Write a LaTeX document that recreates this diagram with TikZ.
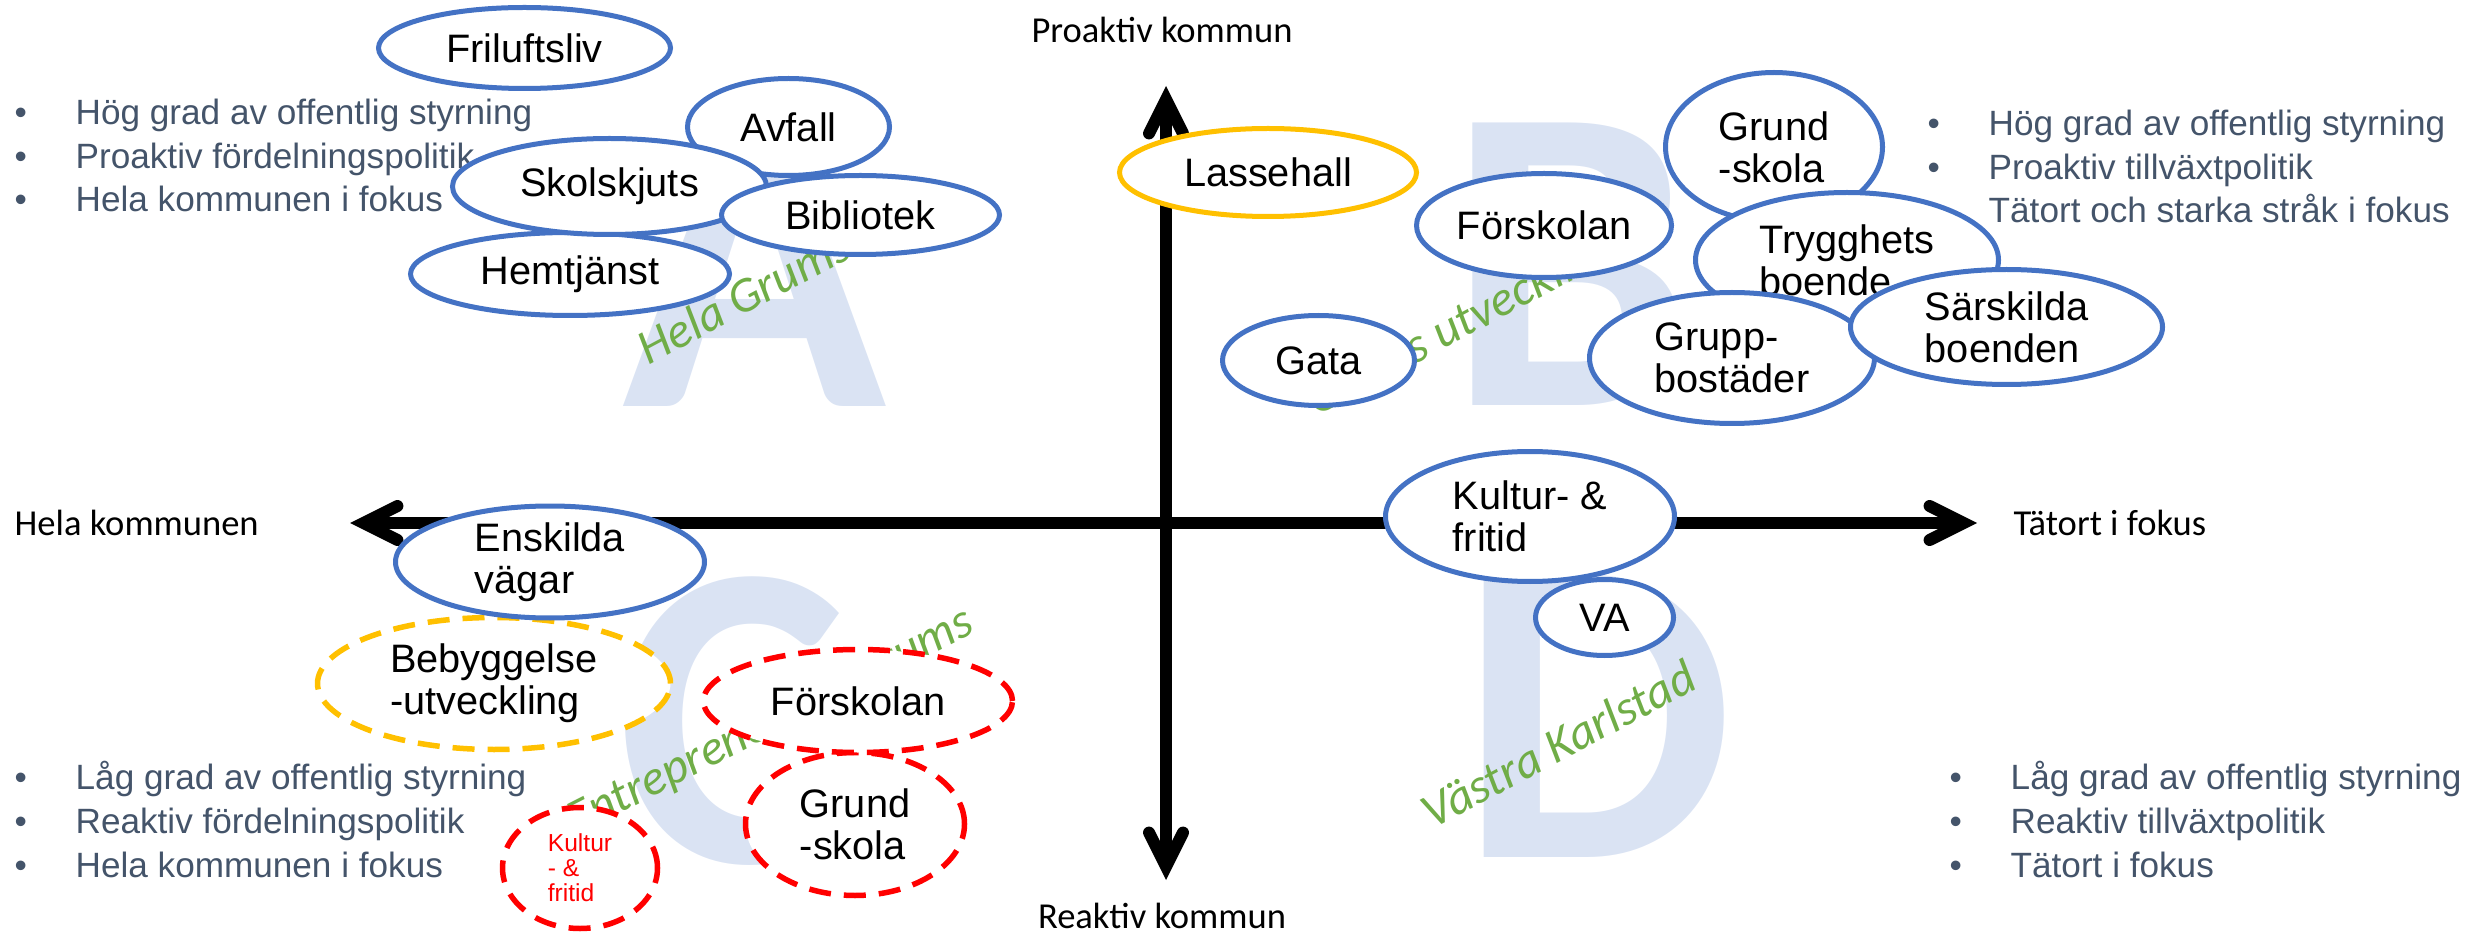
\documentclass[tikz,border=0pt]{standalone}
\usepackage{fontspec}
\setmainfont{Liberation Sans}
\newfontfamily\calibri{Carlito}
\usetikzlibrary{shapes.geometric, arrows.meta}
\definecolor{ovalblue}{HTML}{4472C4}
\definecolor{ovalorange}{HTML}{FFC000}
\definecolor{ovalred}{HTML}{FF0000}
\definecolor{areagreen}{HTML}{70AD47}
\definecolor{letterblue}{HTML}{DAE3F3}
\definecolor{notegray}{HTML}{44546A}

\begin{document}
\begin{tikzpicture}[x=0.1mm, y=-0.1mm,
    >={Straight Barb[length=3.4mm, width=3.4mm, line cap=round]},
    oval/.style={ellipse, draw=ovalblue, line width=0.5mm, fill=white, inner sep=0pt,
                 font=\fontsize{11.3}{12}\selectfont, align=left},
    brokenline/.style={dash pattern=on 2.2mm off 1.3mm, line width=0.55mm},
    bigletter/.style={text=letterblue, font=\calibri\bfseries\fontsize{124}{124}\selectfont,
                      anchor=base, inner sep=0pt},
    area/.style={text=areagreen, font=\calibri\itshape\fontsize{14}{14}\selectfont,
                 rotate=28, anchor=base west, inner sep=0pt},
    notes/.style={text=notegray, font=\fontsize{10}{12.5}\selectfont, align=left,
                  anchor=base west, inner sep=0pt},
    axislabel/.style={font=\calibri\fontsize{10.4}{12}\selectfont, inner sep=0pt},
    axis/.style={line width=1.2mm, <->}]
  \useasboundingbox (0,0) rectangle (2469,935);

  % quadrant letters and area names
  \node[bigletter] (letterA) at (755,407) {A};
  \node[bigletter] (letterB) at (1570,406) {B};
  \node[bigletter] (letterC) at (732,862) {C};
  \node[bigletter] (letterD) at (1597,857) {D};
  \node[area] (areaA) at (648,366) {Hela Grums};
  \node[area] (areaB) at (1316,417) {Grums utveckling};
  \node[area, rotate=-1] (areaC) at (576,836) {Entreprenörens Grums};
  \node[area] (areaD) at (1432,830) {Västra Karlstad};

  % quadrant descriptions (placed at the last line)
  \node[notes] (notesA) at (14,212)
    {\makebox[6.1mm][l]{•}Hög grad av offentlig styrning\\
     \makebox[6.1mm][l]{•}Proaktiv fördelningspolitik\\
     \makebox[6.1mm][l]{•}Hela kommunen i fokus};
  \node[notes] (notesB) at (1927,223)
    {\makebox[6.1mm][l]{•}Hög grad av offentlig styrning\\
     \makebox[6.1mm][l]{•}Proaktiv tillväxtpolitik\\
     \hspace*{6.1mm}Tätort och starka stråk i fokus};
  \node[notes] (notesC) at (14,877)
    {\makebox[6.1mm][l]{•}Låg grad av offentlig styrning\\
     \makebox[6.1mm][l]{•}Reaktiv fördelningspolitik\\
     \makebox[6.1mm][l]{•}Hela kommunen i fokus};
  \node[notes] (notesD) at (1949,877)
    {\makebox[6.1mm][l]{•}Låg grad av offentlig styrning\\
     \makebox[6.1mm][l]{•}Reaktiv tillväxtpolitik\\
     \makebox[6.1mm][l]{•}Tätort i fokus};

  % axes
  \coordinate (west) at (350,523);
  \coordinate (east) at (1977,523);
  \coordinate (north) at (1166,86);
  \coordinate (south) at (1166,880);
  \draw[axis] (west) -- (east);
  \draw[axis] (south) -- (north);
  \node[axislabel, anchor=base] (proaktiv) at (1162,43) {Proaktiv kommun};
  \node[axislabel, anchor=base] (reaktiv) at (1162,928) {Reaktiv kommun};
  \node[axislabel, anchor=base west] (helakommun) at (14,535) {Hela kommunen};
  \node[axislabel, anchor=base west] (tatort) at (2013,535) {Tätort i fokus};

  % A
  \node[oval, minimum width=29.2mm, minimum height=8.1mm] (friluftsliv) at (524.5,48) {Friluftsliv};
  \node[oval, minimum width=31.9mm, minimum height=8.3mm] (hemtjanst) at (570,274) {Hemtjänst};
  \node[oval, minimum width=20.2mm, minimum height=9.7mm] (avfall) at (788.5,127) {Avfall};
  \node[oval, minimum width=31.4mm, minimum height=9.6mm] (skolskjuts) at (609.5,186.5) {Skolskjuts};
  \node[oval, minimum width=27.8mm, minimum height=7.9mm] (bibliotek) at (860.5,215) {Bibliotek};

  % B
  \node[oval, draw=ovalorange, minimum width=29.7mm, minimum height=8.8mm] (lassehall) at (1268,172.5) {Lassehall};
  \node[oval, minimum width=21.7mm, minimum height=14.9mm] (grundB) at (1774,147) {Grund\\-skola};
  \node[oval, minimum width=30.3mm, minimum height=13.5mm] (trygghet) at (1847,260) {Trygghets\\boende};
  \node[oval, minimum width=25.5mm, minimum height=10.4mm] (forskolaB) at (1544,225.5) {Förskolan};
  \node[oval, minimum width=19.2mm, minimum height=9mm] (gata) at (1318.5,360.5) {Gata};
  \node[oval, minimum width=28.5mm, minimum height=13.1mm] (grupp) at (1732,358) {Grupp-\\bostäder};
  \node[oval, minimum width=31.2mm, minimum height=11.5mm] (sarskilda) at (2006.5,327) {Särskilda\\boenden};

  % C
  \node[oval, draw=ovalorange, brokenline, minimum width=35.3mm, minimum height=13.2mm] (bebyggelse) at (494,683.5) {Bebyggelse\\-utveckling};
  \node[oval, minimum width=30.9mm, minimum height=10.5mm] (enskilda) at (550,562) {Enskilda\\vägar};
  \node[oval, draw=ovalred, brokenline, minimum width=21.9mm, minimum height=14.3mm] (grundC) at (855,824) {Grund\\-skola};
  \node[oval, draw=ovalred, brokenline, minimum width=30.9mm, minimum height=10.3mm] (forskolaC) at (858,701) {Förskolan};
  \node[oval, draw=ovalred, brokenline, text=ovalred, font=\fontsize{7}{7.1}\selectfont,
        minimum width=15.5mm, minimum height=12.1mm] (kulturC) at (580,868) {Kultur\\- \&\\fritid};

  % D
  \node[oval, minimum width=13.8mm, minimum height=7.6mm] (va) at (1604.5,617.5) {VA};
  \node[oval, minimum width=28.9mm, minimum height=13mm] (kulturD) at (1530,516.5) {Kultur- \&\\fritid};
\end{tikzpicture}
\end{document}
